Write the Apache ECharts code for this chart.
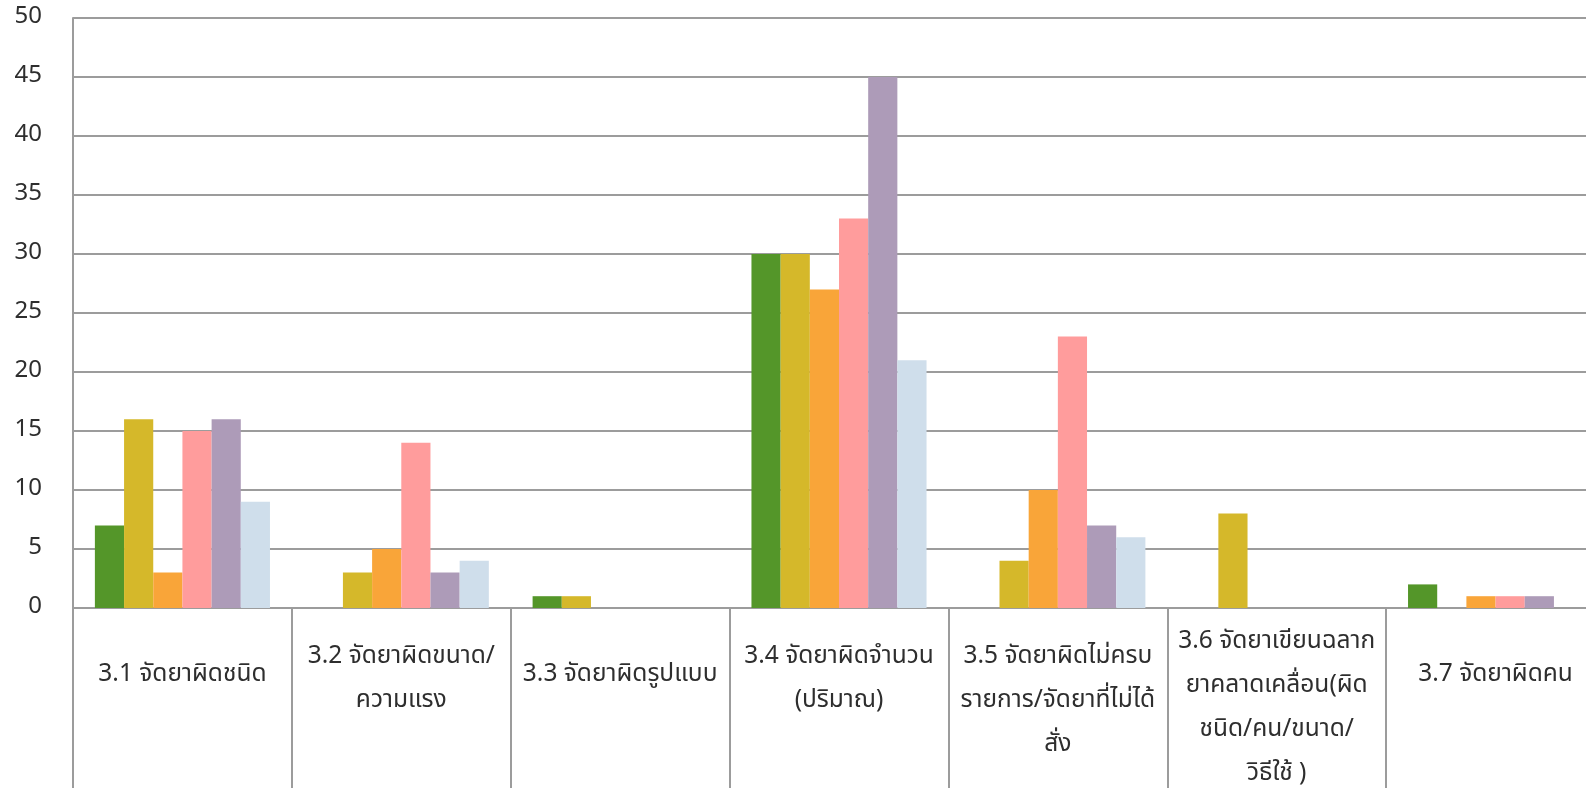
<!doctype html>
<html>
<head>
<meta charset="UTF-8">
<title>จัดยาผิด</title>
<script src="https://cdn.jsdelivr.net/npm/echarts@6/dist/echarts.min.js"></script>
<style>
  html, body { margin: 0; padding: 0; background: #fff; }
  #main { width: 1586px; height: 788px; }
</style>
</head>
<body>
<div id="main"></div>
<script>
// หมวดหมู่ (แกน X)
var categories = [
    '3.1 จัดยาผิดชนิด',
    '3.2 จัดยาผิดขนาด/\nความแรง',
    '3.3 จัดยาผิดรูปแบบ',
    '3.4 จัดยาผิดจำนวน\n(ปริมาณ)',
    '3.5 จัดยาผิดไม่ครบ\nรายการ/จัดยาที่ไม่ได้\nสั่ง',
    '3.6 จัดยาเขียนฉลาก\nยาคลาดเคลื่อน(ผิด\nชนิด/คน/ขนาด/\nวิธีใช้ )',
    '3.7 จัดยาผิดคน'
];
var yTicks = [0, 5, 10, 15, 20, 25, 30, 35, 40, 45, 50];

var s1 = [7, 0, 1, 30, 0, 0, 2];
var s2 = [16, 3, 1, 30, 4, 8, 0];
var s3 = [3, 5, 0, 27, 10, 0, 1];
var s4 = [15, 14, 0, 33, 23, 0, 1];
var s5 = [16, 3, 0, 45, 7, 0, 1];
var s6 = [9, 4, 0, 21, 6, 0, 0];

var names = ['ชุดที่ 1', 'ชุดที่ 2', 'ชุดที่ 3', 'ชุดที่ 4', 'ชุดที่ 5', 'ชุดที่ 6'];
var colors = ['#549629', '#d5b82a', '#f9a539', '#ff9c9c', '#ad9bb8', '#cfdeeb'];
var values = [s1, s2, s3, s4, s5, s6];

var fontFamily = 'Tahoma, "Noto Sans Thai", "Leelawadee UI", "DejaVu Sans", sans-serif';
var gray = '#9c9c9c';

// ระยะบนของป้ายตามจำนวนบรรทัด (เหมือน Excel)
var padByLines = { 1: 33, 2: 15, 3: 15, 4: 0 };
var xData = categories.map(function (c) {
    var n = c.split('\n').length;
    return {
        value: c,
        textStyle: { padding: [padByLines[n] || 0, 0, 0, 0], verticalAlign: 'top' }
    };
});

var myChart = echarts.init(document.getElementById('main'));

var series = [];
for (var i = 0; i < values.length; i++) {
    series.push({
        name: names[i],
        type: 'bar',
        barGap: '0%',
        barCategoryGap: '20%',
        itemStyle: { color: colors[i] },
        data: values[i]
    });
}

var option = {
    animation: false,
    backgroundColor: '#fff',
    grid: {
        left: 73,
        top: 18,
        width: 1532,
        bottom: 180,
        outerBoundsMode: 'none',
        containLabel: false
    },
    xAxis: {
        type: 'category',
        data: xData,
        axisLine: { show: true, lineStyle: { color: gray, width: 2 } },
        axisTick: { show: true, interval: 0, length: 200, lineStyle: { color: gray, width: 2 } },
        axisLabel: {
            interval: 0,
            margin: 13,
            verticalAlign: 'top',
            lineHeight: 44,
            fontSize: 24.5,
            color: '#2e2e2e',
            fontFamily: fontFamily
        }
    },
    yAxis: {
        type: 'value',
        min: 0,
        max: 50,
        interval: 5,
        axisLine: { show: true, lineStyle: { color: gray, width: 2 } },
        axisTick: { show: false },
        splitLine: { show: true, lineStyle: { color: gray, width: 2 } },
        axisLabel: {
            margin: 31,
            fontSize: 24,
            color: '#2e2e2e',
            fontFamily: fontFamily,
            formatter: function (v) { return yTicks.indexOf(v) >= 0 ? String(v) : ''; }
        }
    },
    series: series
};
myChart.setOption(option);
</script>
</body>
</html>
